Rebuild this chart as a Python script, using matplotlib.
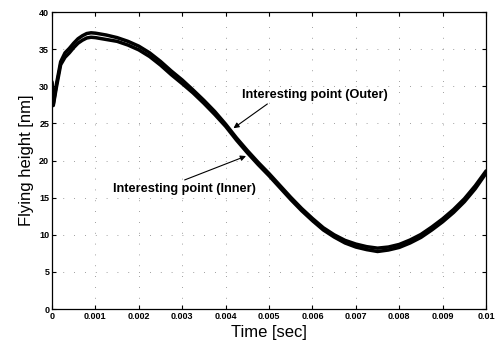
import matplotlib

matplotlib.use("Agg")

import matplotlib.pyplot as plt

# time axis [sec]
TIME = [0, 0.00003, 0.0001, 0.0002, 0.0003, 0.0004, 0.0005, 0.0006, 0.0007,
        0.0008, 0.0009, 0.001, 0.00125, 0.0015, 0.00175, 0.002, 0.00225,
        0.0025, 0.00275, 0.003, 0.00325, 0.0035, 0.00375, 0.004, 0.00425,
        0.0045, 0.00475, 0.005, 0.00525, 0.0055, 0.00575, 0.006, 0.00625,
        0.0065, 0.00675, 0.007, 0.00725, 0.0075, 0.00775, 0.008, 0.00825,
        0.0085, 0.00875, 0.009, 0.00925, 0.0095, 0.00975, 0.01]

# flying height [nm], outer / inner track
OUTER = [30.6, 27.6, 30.2, 33.3, 34.5, 35.1, 35.8, 36.4, 36.8, 37.1, 37.2,
         37.15, 36.9, 36.55, 36.05, 35.4, 34.5, 33.35, 32.05, 30.85, 29.5,
         28.1, 26.6, 24.9, 23.05, 21.35, 19.75, 18.25, 16.65, 15.05, 13.55,
         12.2, 10.95, 10.0, 9.25, 8.75, 8.4, 8.2, 8.35, 8.7, 9.3, 10.05,
         11.05, 12.15, 13.4, 14.85, 16.6, 18.6]
INNER = [30.4, 27.4, 29.8, 32.9, 33.9, 34.5, 35.2, 35.8, 36.2, 36.5, 36.6,
         36.55, 36.3, 36.05, 35.55, 34.9, 34.0, 32.85, 31.55, 30.35, 29.1,
         27.7, 26.2, 24.6, 22.75, 21.05, 19.45, 17.95, 16.35, 14.75, 13.25,
         11.9, 10.65, 9.7, 8.9, 8.35, 8.0, 7.75, 7.95, 8.3, 8.9, 9.65,
         10.65, 11.75, 13.0, 14.45, 16.2, 18.3]

X_TICKS = [0, 0.001, 0.002, 0.003, 0.004, 0.005, 0.006, 0.007, 0.008, 0.009, 0.01]
X_LABELS = ["0", "0.001", "0.002", "0.003", "0.004", "0.005", "0.006",
            "0.007", "0.008", "0.009", "0.01"]
Y_TICKS = [0, 5, 10, 15, 20, 25, 30, 35, 40]

plt.rcParams["font.family"] = ["Liberation Sans", "DejaVu Sans"]

fig = plt.figure(figsize=(4.95, 3.43), dpi=100)
ax = fig.add_axes([0.105, 0.099, 0.877, 0.866])

ax.plot(TIME, OUTER, color="black", linewidth=2.5, solid_capstyle="round",
        solid_joinstyle="round")
ax.plot(TIME, INNER, color="black", linewidth=2.5, solid_capstyle="round",
        solid_joinstyle="round")

ax.set_xlim(0, 0.01)
ax.set_ylim(0, 40)
ax.set_xticks(X_TICKS)
ax.set_xticklabels(X_LABELS)
ax.set_yticks(Y_TICKS)
ax.tick_params(direction="in", length=3, width=0.8, top=True, right=True,
               labelsize=6.5, pad=2)
for lbl in ax.get_xticklabels() + ax.get_yticklabels():
    lbl.set_fontweight("bold")
for spine in ax.spines.values():
    spine.set_linewidth(0.9)

ax.grid(True, color="black", linestyle=(0, (1, 12)), linewidth=0.6, alpha=0.5)

ax.set_xlabel("Time [sec]", fontsize=12, labelpad=3)
ax.set_ylabel("Flying height [nm]", fontsize=12, labelpad=4)

ax.annotate("Interesting point (Outer)", xy=(0.00418, 24.35),
            xytext=(0.00438, 28.8), fontsize=9.2, fontweight="bold",
            va="center", ha="left",
            arrowprops=dict(arrowstyle="-|>", color="black", lw=0.8,
                            mutation_scale=8, shrinkA=0, shrinkB=0,
                            relpos=(0.2, 0.0)))
ax.annotate("Interesting point (Inner)", xy=(0.00447, 20.6),
            xytext=(0.00141, 16.2), fontsize=9.2, fontweight="bold",
            va="center", ha="left",
            arrowprops=dict(arrowstyle="-|>", color="black", lw=0.8,
                            mutation_scale=8, shrinkA=0, shrinkB=0,
                            relpos=(0.45, 1.0)))

fig.savefig("out.png", dpi=100)
